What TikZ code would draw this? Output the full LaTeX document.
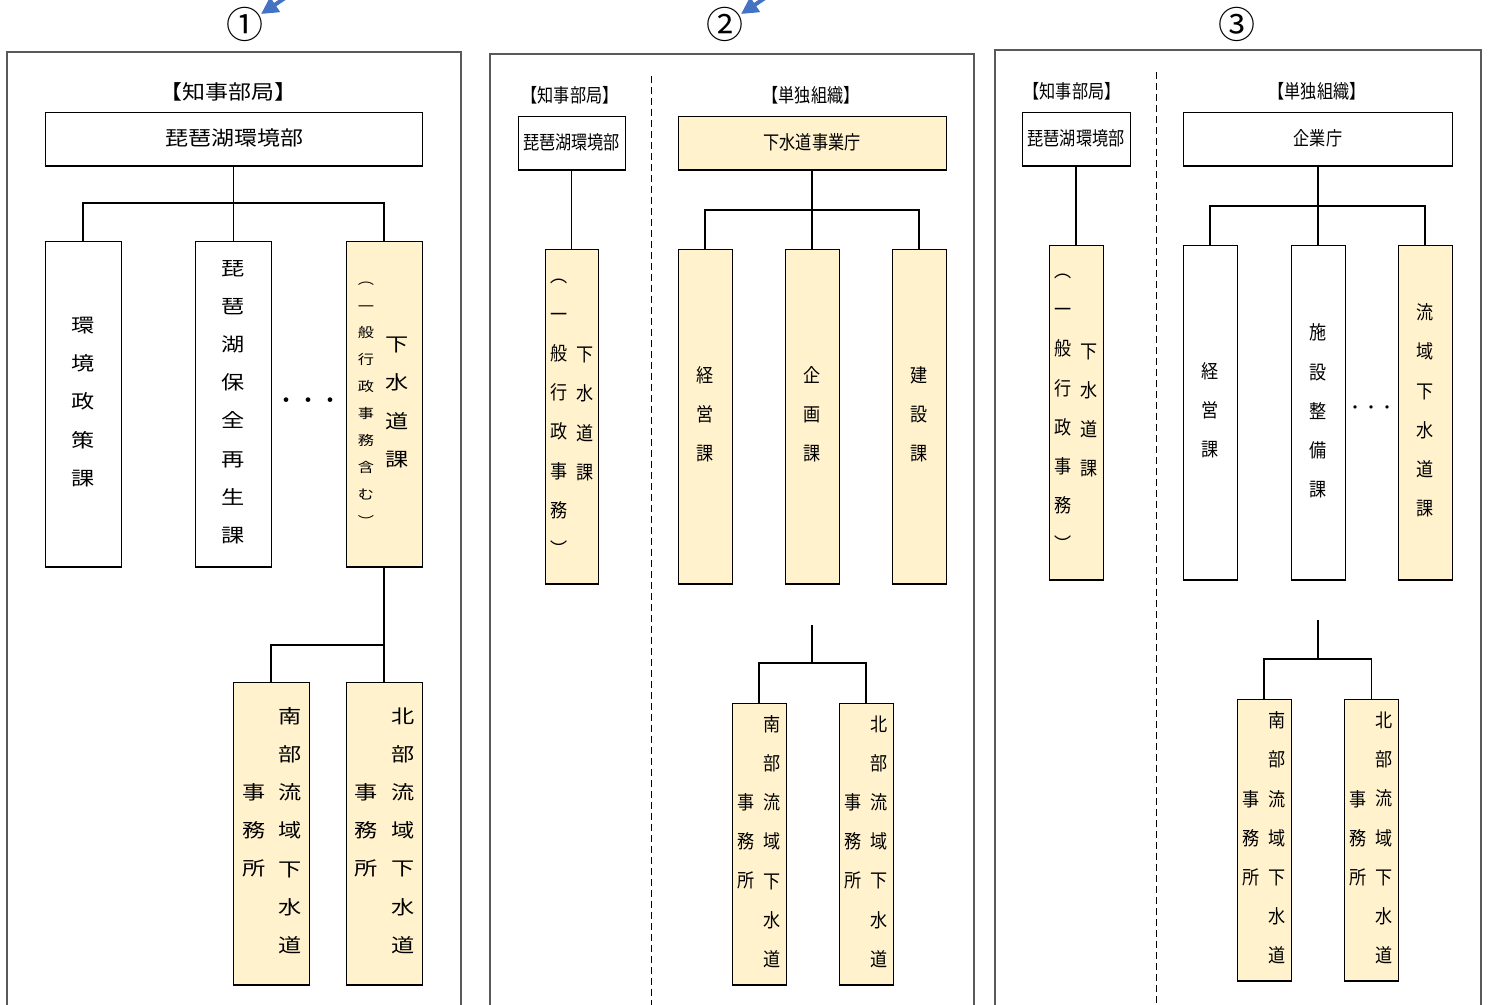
\documentclass[tikz,border=0pt]{standalone}
\usepackage{fontspec}
\setmainfont{Noto Sans CJK JP}
\newfontfamily\widejp[FakeStretch=1.22]{Noto Sans CJK JP}
\newfontfamily\wideh[FakeStretch=1.15]{Noto Sans CJK JP}
\newfontfamily\narrowjp[FakeStretch=0.9]{Noto Sans CJK JP}
\newfontfamily\narrowh[FakeStretch=0.85]{Noto Sans CJK JP}
\usetikzlibrary{arrows.meta}
\definecolor{ylw}{HTML}{FFF2CC}
\definecolor{arrowblue}{HTML}{4472C4}
\definecolor{framegray}{HTML}{595959}
\begin{document}
\begin{tikzpicture}[x=1pt,y=-1pt,
  wbox/.style={draw, line width=0.9pt, fill=white, inner sep=0pt},
  ybox/.style={wbox, fill=ylw},
  conn/.style={line width=1.1pt},
  panel/.style={draw=framegray, line width=1.2pt},
  divider/.style={line width=0.8pt, dash pattern=on 7pt off 4pt},
  vA/.style={align=center, inner sep=0pt, font=\widejp\fontsize{19}{38.2}\selectfont},
  vS/.style={align=center, inner sep=0pt, font=\widejp\fontsize{13.3}{26.9}\selectfont},
  vB/.style={align=center, inner sep=0pt, font=\narrowjp\fontsize{19}{39.2}\selectfont},
  hA/.style={inner sep=0pt, font=\wideh\fontsize{20}{24}\selectfont},
  hB/.style={inner sep=0pt, font=\narrowh\fontsize{19}{22}\selectfont},
  num/.style={inner sep=0pt, font=\fontsize{37}{40}\selectfont},
  dots/.style={inner sep=0pt},
  pointer/.style={draw=arrowblue, line width=4pt, -{Triangle[length=17pt,width=17pt]}},
]
\useasboundingbox (0,0) rectangle (1490,1004);
\fill[white] (0,0) rectangle (1490,1004);

% ---------- circled numbers and blue pointers ----------
\node[num] (n1) at (245,24) {①};
\node[num] (n2) at (725,24) {②};
\node[num] (n3) at (1237,24) {③};
\coordinate (a1s) at (300,-12);
\coordinate (a1e) at (261,14);
\coordinate (a2s) at (780,-12);
\coordinate (a2e) at (741,14);
\draw[pointer] (a1s) -- (a1e);
\draw[pointer] (a2s) -- (a2e);

% ---------- panel frames ----------
\draw[panel] (7,1012) -- (7,52) -- (461,52) -- (461,1012);
\draw[panel] (490,1012) -- (490,54) -- (974,54) -- (974,1012);
\draw[panel] (995,1012) -- (995,50) -- (1481,50) -- (1481,1012);
\coordinate (dv2a) at (651,76);
\coordinate (dv2b) at (651,1012);
\coordinate (dv3a) at (1156,72);
\coordinate (dv3b) at (1156,1012);
\draw[divider] (dv2a) -- (dv2b);
\draw[divider] (dv3a) -- (dv3b);

% ================= Panel 1 =================
\node[hA] (h1) at (228,92) {【知事部局】};
\node[wbox, minimum width=377pt, minimum height=54pt] (p1top) at (233.5,139) {};
\node[hA] (h1t) at (234,138) {琵琶湖環境部};
\node[wbox, minimum width=76pt, minimum height=326pt] (p1a) at (83,404) {};
\node[wbox, minimum width=76pt, minimum height=326pt] (p1b) at (233.5,404) {};
\node[ybox, minimum width=76pt, minimum height=326pt] (p1c) at (384,404) {};
\node[ybox, minimum width=76pt, minimum height=303pt] (p1s) at (271,833.5) {};
\node[ybox, minimum width=76pt, minimum height=303pt] (p1n) at (384,833.5) {};

\node[vA] (t1a) at (83,402) {環\\境\\政\\策\\課};
\node[vA] (t1b) at (233,402) {琵\\琶\\湖\\保\\全\\再\\生\\課};
\node[vA] (t1c) at (397,402.5) {下\\水\\道\\課};
\node[vS] (t1c2) at (366,404) {︵\\一\\般\\行\\政\\事\\務\\含\\む\\︶};
\node[dots, font=\fontsize{22}{24}\selectfont] (d1) at (308,403) {・・・};
\node[vA] (t1s) at (290,830.5) {南\\部\\流\\域\\下\\水\\道};
\node[vA] (t1s2) at (254,830.5) {事\\務\\所};
\node[vA] (t1n) at (403,830.5) {北\\部\\流\\域\\下\\水\\道};
\node[vA] (t1n2) at (366,830.5) {事\\務\\所};

\coordinate (j1) at (233.5,203);
\coordinate (k1) at (384,645);
\draw[conn] (p1top.south) -- (p1b.north);
\draw[conn] (p1a.north) |- (j1) -| (p1c.north);
\draw[conn] (p1c.south) -- (p1n.north);
\draw[conn] (p1s.north) |- (k1);

% ================= Panel 2 =================
\node[hB] (h2l) at (570,95) {【知事部局】};
\node[wbox, minimum width=107pt, minimum height=54pt] (p2l) at (571.5,143) {};
\node[hB] (h2lt) at (571.5,142) {琵琶湖環境部};
\node[ybox, minimum width=53pt, minimum height=335pt] (p2lc) at (571.5,416.5) {};
\node[hB] (h2r) at (811,95) {【単独組織】};
\node[ybox, minimum width=268pt, minimum height=54pt] (p2top) at (812,143) {};
\node[hB] (h2rt) at (812,142) {下水道事業庁};
\node[ybox, minimum width=54pt, minimum height=335pt] (p2a) at (705,416.5) {};
\node[ybox, minimum width=54pt, minimum height=335pt] (p2b) at (812,416.5) {};
\node[ybox, minimum width=54pt, minimum height=335pt] (p2c) at (919,416.5) {};
\node[ybox, minimum width=54pt, minimum height=282pt] (p2s) at (759,844) {};
\node[ybox, minimum width=54pt, minimum height=282pt] (p2n) at (866,844) {};

\node[vB] (t2lc) at (585,414) {下\\水\\道\\課};
\node[vB] (t2lc2) at (559,417.5) {︵\\一\\般\\行\\政\\事\\務\\︶};
\node[vB] (t2a) at (705,414.5) {経\\営\\課};
\node[vB] (t2b) at (812,414.5) {企\\画\\課};
\node[vB] (t2c) at (919,414.5) {建\\設\\課};
\node[vB] (t2s) at (772,841.5) {南\\部\\流\\域\\下\\水\\道};
\node[vB] (t2s2) at (746,841.5) {事\\務\\所};
\node[vB] (t2n) at (879,841.5) {北\\部\\流\\域\\下\\水\\道};
\node[vB] (t2n2) at (853,841.5) {事\\務\\所};

\coordinate (j2) at (812,210);
\coordinate (c2) at (812,625);
\coordinate (k2) at (812,663);
\draw[conn] (p2l.south) -- (p2lc.north);
\draw[conn] (p2top.south) -- (p2b.north);
\draw[conn] (p2a.north) |- (j2) -| (p2c.north);
\draw[conn] (c2) -- (k2);
\draw[conn] (p2s.north) |- (k2) -| (p2n.north);

% ================= Panel 3 =================
\node[hB] (h3l) at (1072,91) {【知事部局】};
\node[wbox, minimum width=108pt, minimum height=54pt] (p3l) at (1076,139) {};
\node[hB] (h3lt) at (1076,138) {琵琶湖環境部};
\node[ybox, minimum width=54pt, minimum height=335pt] (p3lc) at (1076,412.5) {};
\node[hB] (h3r) at (1317,91) {【単独組織】};
\node[wbox, minimum width=269pt, minimum height=54pt] (p3top) at (1318,139) {};
\node[hB] (h3rt) at (1318,138) {企業庁};
\node[wbox, minimum width=54pt, minimum height=335pt] (p3a) at (1210,412.5) {};
\node[wbox, minimum width=54pt, minimum height=335pt] (p3b) at (1318,412.5) {};
\node[ybox, minimum width=54pt, minimum height=335pt] (p3c) at (1425,412.5) {};
\node[ybox, minimum width=54pt, minimum height=282pt] (p3s) at (1264,840) {};
\node[ybox, minimum width=54pt, minimum height=282pt] (p3n) at (1371.5,840) {};

\node[vB] (t3lc) at (1089,410.5) {下\\水\\道\\課};
\node[vB] (t3lc2) at (1063,413) {︵\\一\\般\\行\\政\\事\\務\\︶};
\node[vB] (t3a) at (1210,410.5) {経\\営\\課};
\node[vB] (t3b) at (1318,411) {施\\設\\整\\備\\課};
\node[vB] (t3c) at (1425,410.5) {流\\域\\下\\水\\道\\課};
\node[dots, font=\fontsize{16}{18}\selectfont] (d3) at (1371,410) {・・・};
\node[vB] (t3s) at (1277,838) {南\\部\\流\\域\\下\\水\\道};
\node[vB] (t3s2) at (1251,838) {事\\務\\所};
\node[vB] (t3n) at (1384,838) {北\\部\\流\\域\\下\\水\\道};
\node[vB] (t3n2) at (1358,838) {事\\務\\所};

\coordinate (j3) at (1318,206);
\coordinate (c3) at (1318,620);
\coordinate (k3) at (1318,659);
\draw[conn] (p3l.south) -- (p3lc.north);
\draw[conn] (p3top.south) -- (p3b.north);
\draw[conn] (p3a.north) |- (j3) -| (p3c.north);
\draw[conn] (c3) -- (k3);
\draw[conn] (p3s.north) |- (k3) -| (p3n.north);

% heavier bottom edges of the boxes
\foreach \b in {p1top,p1a,p1b,p1c,p1s,p1n,p2l,p2lc,p2top,p2a,p2b,p2c,p2s,p2n,p3l,p3lc,p3top,p3a,p3b,p3c,p3s,p3n}
  \draw[line width=2pt] (\b.south west) -- (\b.south east);
\end{tikzpicture}
\end{document}
